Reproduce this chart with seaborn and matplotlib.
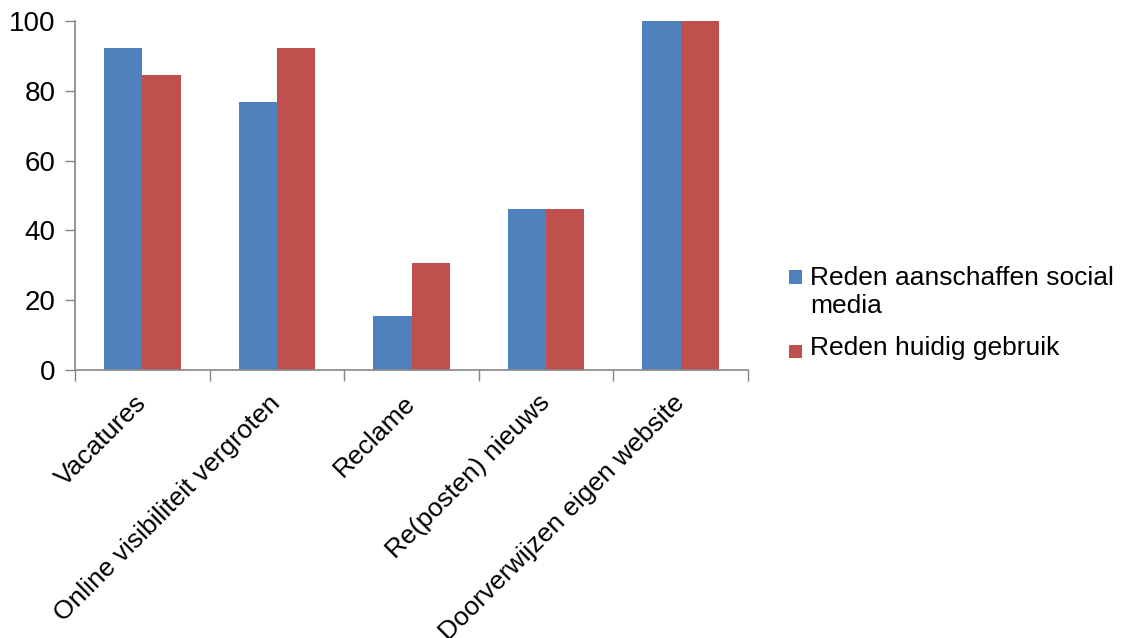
import matplotlib
matplotlib.use("Agg")
import matplotlib.pyplot as plt
import seaborn as sns
import pandas as pd
from matplotlib.patches import Patch, Rectangle
from matplotlib.legend_handler import HandlerBase

categories = ["Vacatures", "Online visibiliteit vergroten", "Reclame", "Re(posten) nieuws", "Doorverwijzen eigen website"]
series_names = ["Reden aanschaffen social\nmedia", "Reden huidig gebruik"]
aanschaffen = [92.3, 76.9, 15.4, 46.2, 100.0]
huidig = [84.6, 92.3, 30.8, 46.2, 100.0]
yticks = [0, 20, 40, 60, 80, 100]
colors = ["#4F81BD", "#C0504D"]

df = pd.DataFrame({
    "cat": categories * 2,
    "val": aanschaffen + huidig,
    "serie": [series_names[0]] * 5 + [series_names[1]] * 5,
})

sns.set_style("white")
plt.rcParams["font.family"] = ["Liberation Sans", "DejaVu Sans"]
plt.rcParams["text.color"] = "black"
plt.rcParams["xtick.color"] = "#868686"
plt.rcParams["ytick.color"] = "#868686"
plt.rcParams["xtick.labelcolor"] = "black"
plt.rcParams["ytick.labelcolor"] = "black"

fig = plt.figure(figsize=(11.25, 6.38), dpi=100)
ax = fig.add_axes([75/1125, 1-370/638, (748-75)/1125, (370-21)/638])
sns.barplot(data=df, x="cat", y="val", hue="serie", palette=colors, width=0.57,
            gap=0, ax=ax, legend=False, saturation=1, errorbar=None)
for p in ax.patches:
    p.set_edgecolor("none")

ax.set_xlim(-0.5, 4.5)
ax.set_ylim(0, 100)
ax.set_yticks(yticks)
ax.set_yticklabels([str(v) for v in yticks], fontsize=20)
ax.set_xlabel("")
ax.set_ylabel("")
ax.set_xticks(range(5))
ax.set_xticklabels(categories, rotation=45, ha="right", va="center",
                   rotation_mode="anchor", fontsize=19)
ax.set_xticks([-0.5 + i for i in range(6)], minor=True)
ax.tick_params(axis="x", which="major", length=0, pad=21)
ax.tick_params(axis="x", which="minor", length=8, width=1, direction="out", bottom=True)
ax.tick_params(axis="y", length=7, width=1, direction="out", left=True, pad=7)
for s in ["top", "right"]:
    ax.spines[s].set_visible(False)
for s in ["left", "bottom"]:
    ax.spines[s].set_color("#868686")
    ax.spines[s].set_linewidth(1.2)


class SquareHandler(HandlerBase):
    def __init__(self, lines_up=0):
        super().__init__()
        self.lines_up = lines_up

    def create_artists(self, legend, orig_handle, xdescent, ydescent, width, height, fontsize, trans):
        side = 0.5 * fontsize
        dy = self.lines_up * 0.79 * fontsize - 0.19 * fontsize
        r = Rectangle((-xdescent, -ydescent + dy), side, side,
                      facecolor=orig_handle.get_facecolor(), edgecolor="none", transform=trans)
        return [r]


handles = [Patch(facecolor=c, edgecolor="none") for c in colors]
leg = fig.legend(handles, series_names, loc="center left", bbox_to_anchor=(765/1125, 1-313/638),
                 frameon=False, fontsize=19, handlelength=0.5, handleheight=0.5, handletextpad=0.3,
                 labelspacing=0.7,
                 handler_map={handles[0]: SquareHandler(1), handles[1]: SquareHandler(0)})

fig.savefig("out.png", dpi=100)
